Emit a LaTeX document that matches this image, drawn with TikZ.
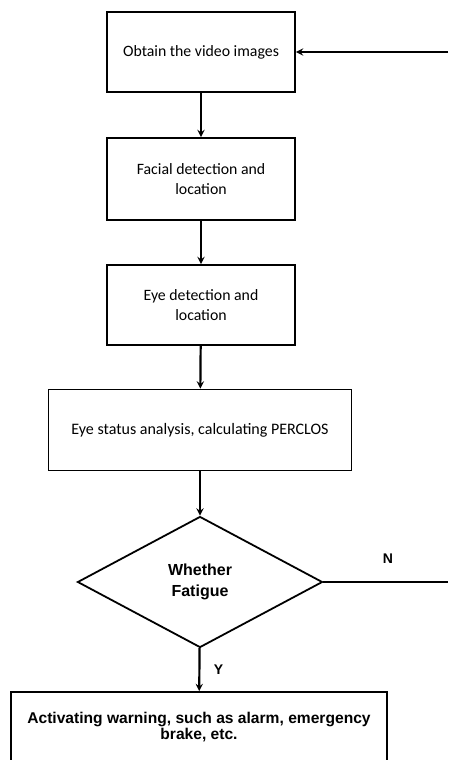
\documentclass[tikz,border=0pt]{standalone}
\usepackage{fontspec}
\setmainfont{Carlito}
\newfontfamily\headfont{Liberation Sans}
\usetikzlibrary{shapes.geometric}

\tikzset{
    stagebox/.style={draw, line width=1.8pt, align=center, inner sep=2pt,
        font=\fontsize{15.8}{20}\selectfont},
    decision/.style={draw, diamond, line width=1.8pt, align=center, inner sep=0pt,
        font=\headfont\bfseries\fontsize{16}{21}\selectfont},
    flow/.style={->, line width=2.2pt},
}

\begin{document}
\begin{tikzpicture}[x=1pt, y=-1pt, >=stealth]
        \clip (0,0) rectangle (448,760);

        \node[stagebox, minimum width=188, minimum height=80] (obtain) at (201, 52)
            {Obtain the video images};
        \node[stagebox, minimum width=188, minimum height=82] (facial) at (201,179)
            {Facial detection and\\location};
        \node[stagebox, minimum width=188, minimum height=80] (eyes)   at (201,305)
            {Eye detection and\\location};
        \node[stagebox, minimum width=303, minimum height=81,
              font=\fontsize{16}{18}\selectfont] (perclos) at (200,430)
            {Eye status analysis, calculating PERCLOS};
        \node[decision, minimum width=245, minimum height=131] (fatigue) at (200,582)
            {Whether\\Fatigue};
        \node[stagebox, minimum width=376, minimum height=70,
              font=\headfont\bfseries\fontsize{15.6}{16}\selectfont] (warn) at (199,727)
            {Activating warning, such as alarm, emergency\\brake, etc.};

        \coordinate (backN) at (448,582);
        \coordinate (backT) at (448, 52);

        \draw[flow] (obtain)  -- (facial);
        \draw[flow] (facial)  -- (eyes);
        \draw[flow] (eyes)    -- (perclos);
        \draw[flow] (perclos) -- (fatigue);
        \draw[flow] (fatigue) -- node[right=10pt, font=\headfont\bfseries\fontsize{14}{15}\selectfont] (yes) {Y} (warn);

        \draw[line width=1.8pt] (fatigue.east) -- (backN);
        \draw[flow] (backT) -- (obtain.east);

        \node[font=\headfont\bfseries\fontsize{14}{15}\selectfont] (no) at (388,559) {N};
    \end{tikzpicture}
\end{document}
